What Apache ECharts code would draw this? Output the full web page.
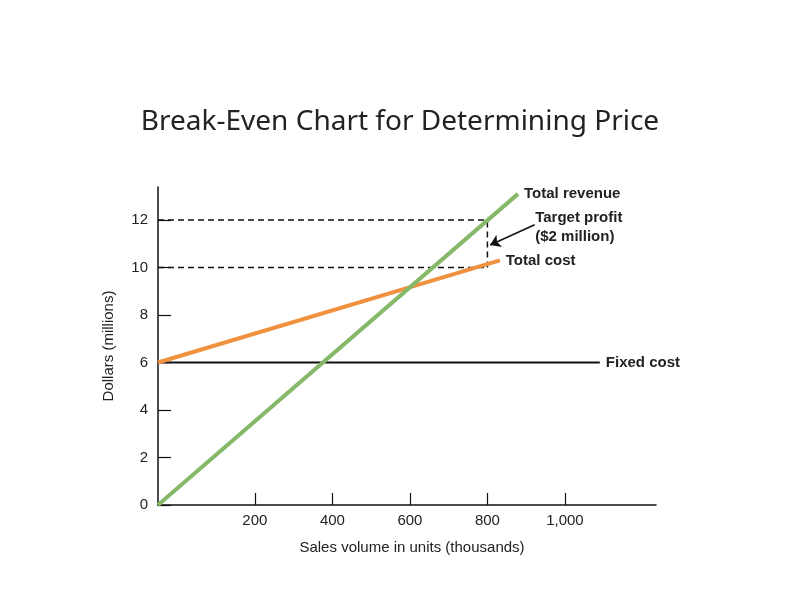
<!DOCTYPE html>
<html><head><meta charset="utf-8">
<script src="https://cdn.jsdelivr.net/npm/echarts@6/dist/echarts.min.js"></script>
<style>html,body{margin:0;background:#fff}#c{width:800px;height:600px}</style></head>
<body><div id="c"></div>
<script>
const xTicks = [200, 400, 600, 800, 1000];
const yTicks = [0, 2, 4, 6, 8, 10, 12];
const revenue = [[-50, 0], [879, 13.1]];
const totalCost = [[-50, 6], [832, 10.3]];
const fixedCost = [[-50, 6], [1090, 6]];
const target12 = [[-50, 12], [800, 12]];
const target10 = [[-50, 10], [800, 10]];
const profitGap = [[800, 10], [800, 12]];
const arrow = [[922, 11.8], [807, 10.95]];
const F = 'Liberation Sans, Arial, sans-serif';
const endLab = (t) => ({show: true, formatter: t, color: '#222', fontFamily: F, fontWeight: 'bold', fontSize: 15, distance: 6});
const dash = d => ({type: 'line', data: d, symbol: 'none', silent: true, lineStyle: {color: '#111', width: 1.5, type: [6, 4]}});
const chart = echarts.init(document.getElementById('c'));
chart.setOption({
  animation: false,
  title: {text: 'Break-Even Chart for Determining Price', left: 'center', top: 103,
    textStyle: {fontFamily: 'Noto Sans', fontWeight: 'normal', fontSize: 28, color: '#222'}},
  grid: {left: 158, right: 144, top: 187, bottom: 95},
  xAxis: {type: 'value', min: -50, max: 1235,
    name: 'Sales volume in units (thousands)', nameLocation: 'middle', nameGap: 35,
    nameTextStyle: {fontFamily: F, fontSize: 15, color: '#222', padding: [0, 0, 0, 10]},
    axisLine: {lineStyle: {color: '#111', width: 1.5}},
    axisTick: {show: true, inside: true, length: 12, customValues: xTicks, lineStyle: {color: '#111', width: 1.2}},
    axisLabel: {customValues: xTicks, fontFamily: F, fontSize: 15, color: '#222', margin: 8,
      formatter: v => v >= 1000 ? '1,000' : String(v)},
    splitLine: {show: false}},
  yAxis: {type: 'value', min: 0, max: 13.39,
    name: 'Dollars (millions)', nameLocation: 'middle', nameGap: 42, nameRotate: 90,
    nameTextStyle: {fontFamily: F, fontSize: 15, color: '#222'},
    axisLine: {show: true, onZero: false, lineStyle: {color: '#111', width: 1.5}},
    axisTick: {show: true, inside: true, length: 13, customValues: yTicks, lineStyle: {color: '#111', width: 1.2}},
    axisLabel: {customValues: yTicks, fontFamily: F, fontSize: 15, color: '#222', margin: 10},
    splitLine: {show: false}},
  series: [
    dash(target12), dash(target10), dash(profitGap),
    {type: 'line', data: fixedCost, symbol: 'none', lineStyle: {color: '#111', width: 2}, endLabel: endLab('Fixed cost')},
    {type: 'line', data: totalCost, symbol: 'none', lineStyle: {color: '#f0913f', width: 4}, endLabel: endLab('Total cost')},
    {type: 'line', data: revenue, symbol: 'none', lineStyle: {color: '#85b868', width: 4}, endLabel: endLab('Total revenue')},
    {type: 'lines', coordinateSystem: 'cartesian2d', silent: true,
      data: [{coords: arrow}], symbol: ['none', 'arrow'], symbolSize: 10,
      lineStyle: {color: '#111', width: 1.5, opacity: 1}},
    {type: 'scatter', data: [[arrow[0][0], arrow[0][1]]], symbolSize: 1, silent: true,
      itemStyle: {color: 'rgba(0,0,0,0)'},
      label: {show: true, position: 'right', distance: 0, offset: [0, 3], formatter: 'Target profit\n($2 million)', align: 'left',
        fontFamily: F, fontWeight: 'bold', fontSize: 15, color: '#222', opacity: 1, lineHeight: 19}}
  ]
});
</script></body></html>
